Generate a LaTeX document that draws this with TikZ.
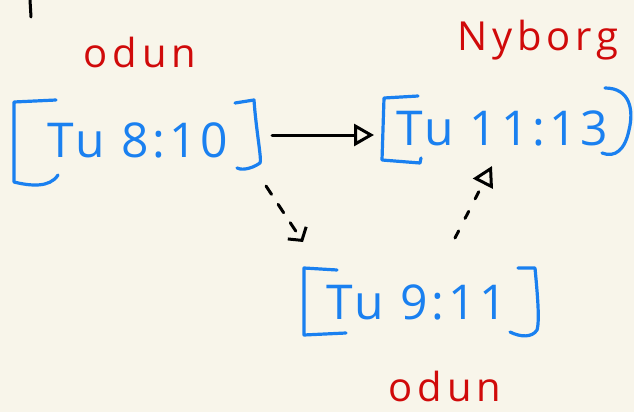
\documentclass[tikz,border=0pt]{standalone}
\usepackage{fontspec}
\setmainfont{Open Sans}
\usetikzlibrary{arrows.meta}
\definecolor{paper}{HTML}{F8F5EA}
\definecolor{inkblue}{HTML}{1A80F0}
\definecolor{inkred}{HTML}{D00A0A}
\tikzset{
  timebox/.style={inkblue, font=\fontsize{48}{52}\selectfont\addfontfeature{LetterSpace=8}, inner sep=0pt},
  bracketline/.style={inkblue, line width=3.2pt, line cap=round, line join=round},
  place/.style={inkred, font=\fontsize{40}{44}\selectfont\addfontfeature{LetterSpace=12}, inner sep=0pt},
  link/.style={black, line width=3pt, line cap=round},
  opentip/.style={-{Triangle[open, length=20pt, width=22pt, line width=3pt]}},
  bendtip/.style={-{Straight Barb[length=9pt, width=22pt, line width=3pt]}},
}
\begin{document}
\begin{tikzpicture}[x=1pt, y=-1pt]
  \fill[paper] (0,0) rectangle (634,412);
  \useasboundingbox (0,0) rectangle (634,412);

  % stray stroke at the top edge
  \draw[link] (30,0) -- (31,17);

  % departure and arrival times
  \node[timebox] (dep) at (138,140) {Tu 8:10};
  \node[timebox] (arr) at (502,128) {Tu 11:13};
  \node[timebox] (mid) at (417,302) {Tu 9:11};

  % hand-drawn brackets around each time
  \draw[bracketline] (56,100) -- (14,102) -- (14,182) .. controls (30,186) and (50,188) .. (58,175);
  \draw[bracketline] (235,103) -- (254,100) .. controls (256,130) and (262,160) .. (260,163) .. controls (250,170) and (240,170) .. (237,168);
  \draw[bracketline] (418,96) -- (384,98) -- (382,160) -- (420,163) -- (421,158);
  \draw[bracketline] (605,88) .. controls (630,88) and (634,110) .. (629,130) .. controls (625,150) and (615,158) .. (602,153);
  \draw[bracketline] (337,270) -- (304,268) -- (304,335) -- (346,333);
  \draw[bracketline] (518,268) -- (535,268) .. controls (537,290) and (540,320) .. (537,330) .. controls (532,338) and (520,337) .. (510,332);

  % place names
  \node[place] (odA) at (140,52) {odun};
  \node[place] (nyb) at (538,40) {Nyborg};
  \node[place] (odB) at (445,386) {odun};

  % connections
  \coordinate (depE) at (272,135);
  \coordinate (arrW) at (374,135);
  \draw[link, opentip] (depE) -- (arrW);
  \coordinate (depSE) at (266,186);
  \coordinate (midNW) at (303,242);
  \draw[link, bendtip, dash pattern=on 10pt off 12pt] (depSE) -- (midNW);
  \coordinate (midN) at (455,238);
  \coordinate (arrS) at (492,166);
  \draw[link, opentip, dash pattern=on 8pt off 14pt] (midN) -- (arrS);
\end{tikzpicture}
\end{document}
